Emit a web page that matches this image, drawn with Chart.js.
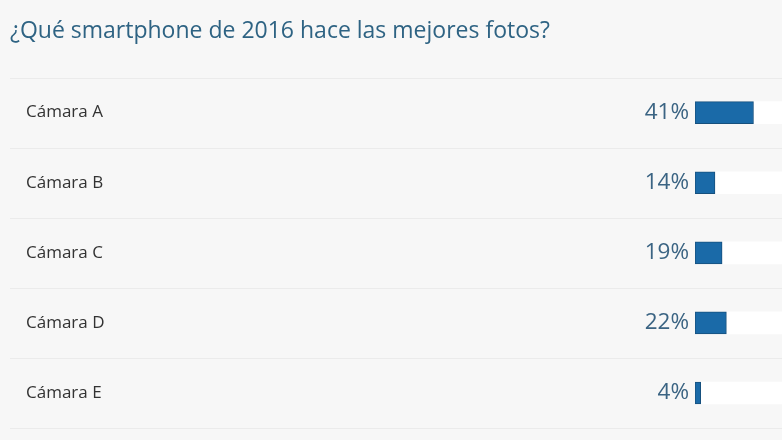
<!DOCTYPE html>
<html>
<head>
<meta charset="utf-8">
<script src="https://cdn.jsdelivr.net/npm/chart.js@4"></script>
<style>
  html, body { margin: 0; padding: 0; background: #f7f7f7; overflow: hidden; }
  #wrap { width: 782px; height: 440px; }
</style>
</head>
<body>
<div id="wrap"><canvas id="encuesta"></canvas></div>
<script>
// Datos de la encuesta
const titulo = '¿Qué smartphone de 2016 hace las mejores fotos?';
const camaras = ['Cámara A', 'Cámara B', 'Cámara C', 'Cámara D', 'Cámara E'];
const votos = [41, 14, 19, 22, 4];

const azul = '#1a6aa8';
const textoAzul = '#3b6483';

// Plugin para dibujar etiquetas, porcentajes y separadores
const filasPlugin = {
    id: 'filas',
    beforeDatasetsDraw(chart) {
        const ctx = chart.ctx;
        const y = chart.scales.y;
        ctx.save();
        ctx.strokeStyle = '#ebebeb';
        ctx.lineWidth = 1;
        for (let i = 0; i <= camaras.length; i++) {
            const py = Math.round(y.getPixelForValue(i - 0.5)) + 0.5;
            ctx.beginPath();
            ctx.moveTo(10, py);
            ctx.lineTo(chart.width, py);
            ctx.stroke();
        }
        ctx.restore();
    },
    afterDatasetsDraw(chart) {
        const ctx = chart.ctx;
        const y = chart.scales.y;
        const area = chart.chartArea;
        ctx.save();
        ctx.textBaseline = 'middle';
        camaras.forEach((c, i) => {
            const py = y.getPixelForValue(i);
            ctx.font = '17px "Open Sans"';
            ctx.fillStyle = '#333333';
            ctx.textAlign = 'left';
            ctx.fillText(c, 26, py);
            ctx.font = '22.5px "Open Sans"';
            ctx.fillStyle = textoAzul;
            ctx.textAlign = 'right';
            ctx.fillText(votos[i] + '%', area.left - 6, py);
        });
        ctx.restore();
    }
};

const ctx = document.getElementById('encuesta').getContext('2d');
const grafico = new Chart(ctx, {
    type: 'bar',
    data: {
        labels: camaras,
        datasets: [
            {
                label: 'Votos',
                data: votos,
                backgroundColor: azul,
                borderColor: '#17507d',
                borderWidth: 1,
                borderSkipped: false,
                barThickness: 22,
                grouped: false,
                order: 1
            },
            {
                label: 'Fondo',
                data: votos.map(() => 100),
                backgroundColor: '#ffffff',
                borderWidth: 0,
                barThickness: 22,
                grouped: false,
                order: 2
            }
        ]
    },
    plugins: [filasPlugin],
    options: {
        indexAxis: 'y',
        responsive: true,
        maintainAspectRatio: false,
        animation: false,
        layout: { padding: { left: 10, right: 0, top: 0, bottom: 12 } },
        plugins: {
            legend: { display: false },
            tooltip: { enabled: false },
            title: {
                display: true,
                text: titulo,
                align: 'start',
                color: '#2e6383',
                font: { family: 'Open Sans', size: 23, weight: 'normal', lineHeight: 1.2 },
                padding: { top: 18, bottom: 32 }
            }
        },
        scales: {
            x: { display: false, min: 0, max: 61 },
            y: {
                display: true,
                ticks: { display: false },
                grid: { display: false },
                border: { display: false },
                afterFit: s => { s.width = 685; }
            }
        }
    }
});
</script>
</body>
</html>
